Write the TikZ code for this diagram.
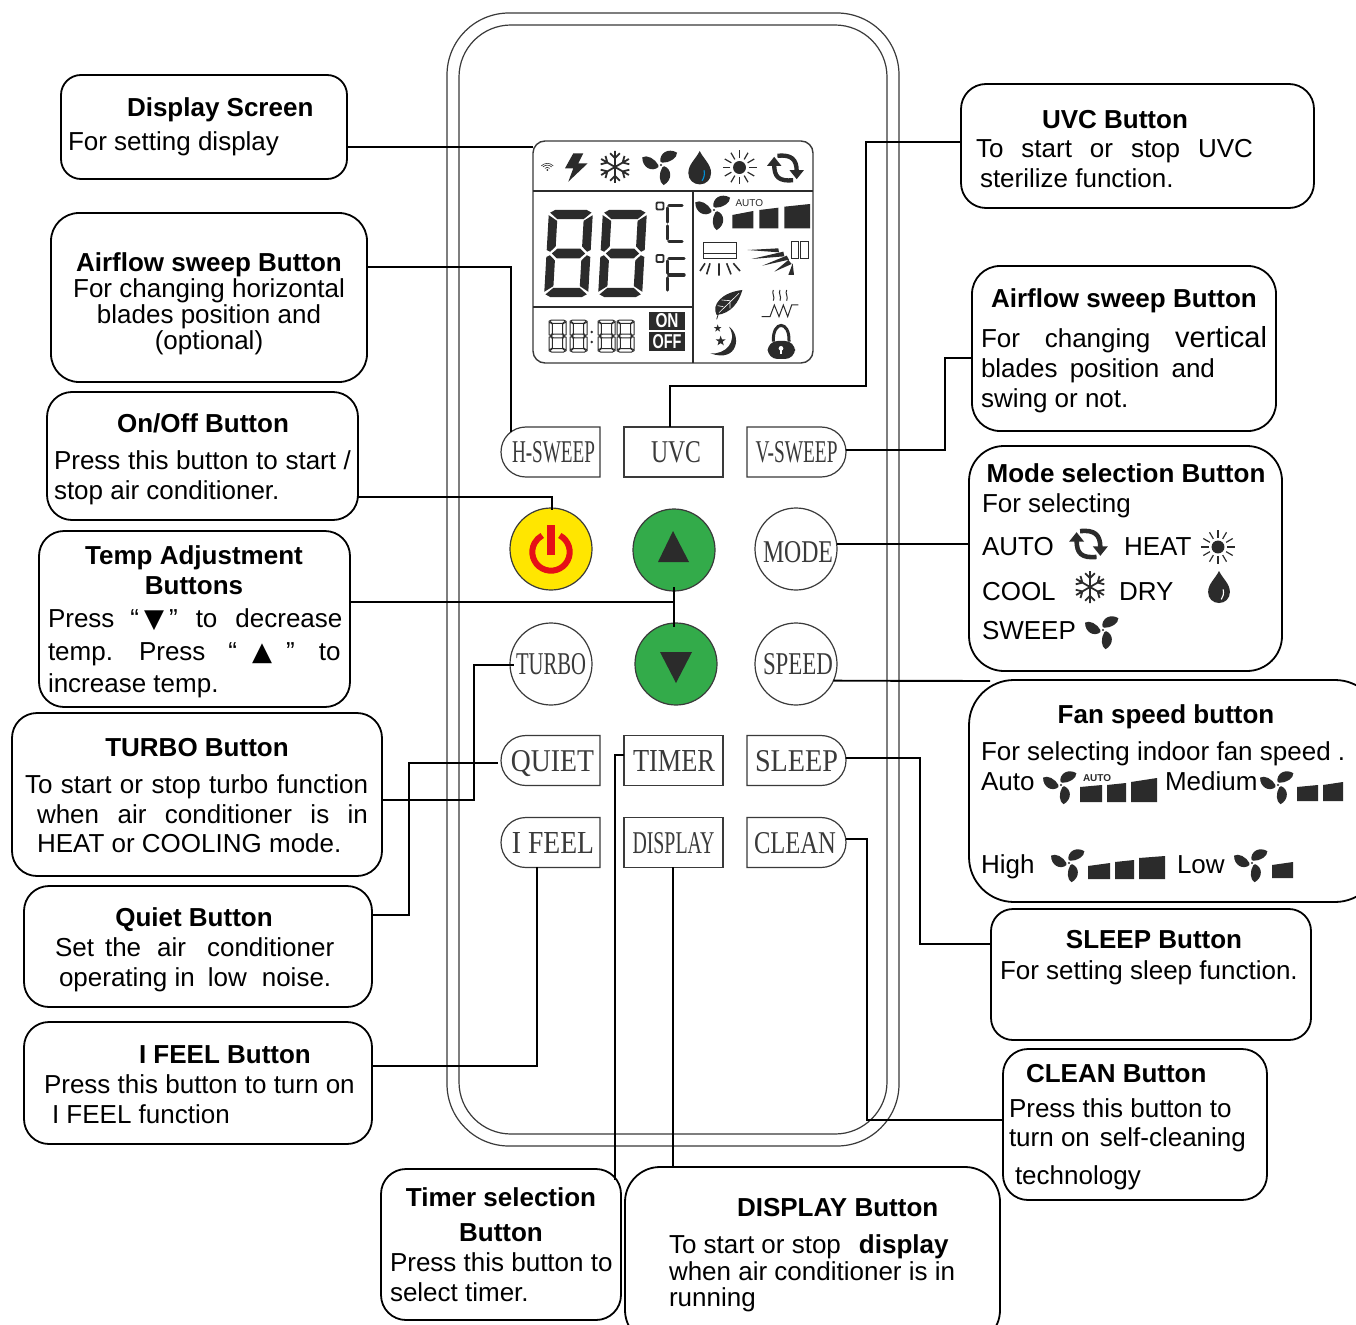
\documentclass[tikz,border=0pt]{standalone}
\usepackage{fontspec}
\usepackage{graphicx}
\setmainfont{Liberation Sans}
\newfontfamily\btnfont{Liberation Serif}
\newfontfamily\dvfont{DejaVu Sans}
\definecolor{lcdink}{HTML}{2B2B2B}
\definecolor{btnink}{HTML}{3A3A3A}
\definecolor{pwryellow}{HTML}{FFE600}
\definecolor{pwrred}{HTML}{E60F17}
\definecolor{btngreen}{HTML}{33AB4A}
\definecolor{dropblue}{HTML}{0090D8}
\newcounter{tn}
\tikzset{
  infobox/.style={draw=black,line width=1.8pt,fill=white,inner sep=0pt,outer sep=0pt},
  conn/.style={draw=black,line width=1.9pt,line join=miter},
  tx/.style={inner sep=0pt,outer sep=0pt,font=\fontsize{26}{30}\selectfont,anchor=base west},
  txc/.style={tx,anchor=base},
  btnline/.style={draw=btnink,line width=1.2pt},
  btnrect/.style={inner sep=0pt,outer sep=0pt,minimum width=99pt,minimum height=50pt,text=btnink},
  btncirc/.style={circle,inner sep=0pt,outer sep=0pt,minimum size=82pt,draw=btnink,line width=1.2pt,text=btnink},
  shell/.style={draw=btnink,line width=1.2pt,inner sep=0pt,outer sep=0pt},
}
\newcommand\boxn[6]{\node[infobox,rounded corners=#6pt,minimum width={(#4-#2)*1pt},minimum height={(#5-#3)*1pt}] (#1) at ({(#2+#4)/2},{(#3+#5)/2}) {};}
\newcommand\tl[3]{\stepcounter{tn}\node[tx] (t\arabic{tn}) at (#1,#2) {#3};}
\newcommand\tc[3]{\stepcounter{tn}\node[txc] (t\arabic{tn}) at (#1,#2) {#3};}
\newcommand\tj[4]{\stepcounter{tn}\node[tx] (t\arabic{tn}) at (#1,#2) {\makebox[#3pt][s]{#4}};}
\newcommand\btxt[3]{\hspace*{#1pt}\resizebox{#2pt}{21pt}{\btnfont\raisebox{0pt}[\height][0pt]{#3}}}
\newcommand\icfan[3]{\begin{scope}[shift={(#1,#2)},scale=#3]
  \foreach \a in {0,120,240}{\fill[lcdink,rotate=\a] (-0.03,-0.2) .. controls (-0.12,-0.68) and (0.42,-1.06) .. (0.96,-0.74) .. controls (0.98,-0.42) and (0.5,-0.12) .. (0.08,-0.14) -- cycle;}
  \fill[lcdink] (0,0) circle[radius=0.07];
  \end{scope}}
\newcommand\icsnow[3]{\begin{scope}[shift={(#1,#2)},scale=#3]
  \foreach \a in {0,60,120,180,240,300}{\draw[lcdink,line width=1.8pt,rotate=\a] (0,0) -- (0,-1) (-0.3,-0.86) -- (0,-0.55) -- (0.3,-0.86);}
  \end{scope}}
\newcommand\icsun[3]{\begin{scope}[shift={(#1,#2)},scale=#3]
  \fill[lcdink] (0,0) circle[radius=0.38];
  \foreach \a in {0,30,...,330}{\draw[lcdink,line width=1.2pt,rotate=\a] (0,-0.55) -- (0,-1);}
  \end{scope}}
\newcommand\icdrop[4]{\begin{scope}[shift={(#1,#2)},scale=#3]
  \fill[lcdink] (0,-1) .. controls (0.25,-0.5) and (0.68,-0.2) .. (0.68,0.32) .. controls (0.68,0.72) and (0.38,1) .. (0,1) .. controls (-0.38,1) and (-0.68,0.72) .. (-0.68,0.32) .. controls (-0.68,-0.2) and (-0.25,-0.5) .. cycle;
  \draw[#4,line width=1.1pt] (0.26,0.15) .. controls (0.32,0.4) and (0.25,0.62) .. (0.14,0.78);
  \end{scope}}
\newcommand\iccycle[3]{\begin{scope}[shift={(#1,#2)},scale=#3]
  \draw[lcdink,line width=#3*0.24pt] (0.45,0.68) .. controls (-0.35,0.75) and (-0.6,0.5) .. (-0.6,-0.2);
  \fill[lcdink] (-1.0,-0.12) -- (-0.6,-0.62) -- (-0.2,-0.12) -- cycle;
  \draw[lcdink,line width=#3*0.24pt] (-0.42,-0.68) .. controls (0.35,-0.75) and (0.65,-0.5) .. (0.65,0.2);
  \fill[lcdink] (0.25,0.12) -- (1.05,0.12) -- (0.65,0.62) -- cycle;
  \end{scope}}
\newcommand\fbar[5]{\fill[lcdink] (#1,#5) -- (#1,#3) -- (#2,#4) -- (#2,#5) -- cycle;}
\newcommand\segd[6]{\begin{scope}[shift={(#1,#2)},cm={#3,0,#5,#4,(0,0)}]
  \path[#6] (.14,0) -- (.86,0) -- (.97,.03) -- (.8,.105) -- (.2,.105) -- (.03,.03) -- cycle;
  \path[#6] (0,.06) -- (.2,.125) -- (.2,.42) -- (.08,.48) -- (0,.46) -- cycle;
  \path[#6] (1,.06) -- (.8,.125) -- (.8,.42) -- (.92,.48) -- (1,.46) -- cycle;
  \path[#6] (.12,.5) -- (.24,.445) -- (.76,.445) -- (.88,.5) -- (.76,.555) -- (.24,.555) -- cycle;
  \path[#6] (0,.54) -- (.08,.52) -- (.2,.58) -- (.2,.875) -- (0,.94) -- cycle;
  \path[#6] (1,.54) -- (.92,.52) -- (.8,.58) -- (.8,.875) -- (1,.94) -- cycle;
  \path[#6] (.03,.97) -- (.2,.895) -- (.8,.895) -- (.97,.97) -- (.86,1) -- (.14,1) -- cycle;
  \end{scope}}
\newcommand\icstar[3]{\fill[lcdink,shift={(#1,#2)},scale=#3] (-90:1) -- (-54:.4) -- (-18:1) -- (18:.4) -- (54:1) -- (90:.4) -- (126:1) -- (162:.4) -- (198:1) -- (234:.4) -- cycle;}
\begin{document}
\begin{tikzpicture}[x=1pt,y=-1pt]
\clip (0,0) rectangle (1356,1324);
\fill[white] (0,0) rectangle (1356,1324);
% remote shell
\node[shell,rounded corners=62pt,minimum width=452pt,minimum height=1133pt] (shellout) at (673,579.5) {};
\node[shell,rounded corners=52pt,minimum width=428pt,minimum height=1109pt] (shellin) at (673,579.5) {};
% LCD
\node[shell,rounded corners=12pt,line width=1.4pt,minimum width=280pt,minimum height=222pt] (lcd) at (673,252) {};
\draw[lcdink,line width=1.2pt] (lcd.west |- 0,191) -- (lcd.east |- 0,191);
\draw[lcdink,line width=1.2pt] (693,191) -- (693,363);
\draw[lcdink,line width=1.2pt] (lcd.west |- 0,307) -- (693,307);
% top row icons
\begin{scope}[shift={(547.3,170)}]
  \fill[lcdink] (0,0) circle[radius=1];
  \foreach \r in {3,5.5,7.5}{\draw[lcdink,line width=.6pt] (-\r*0.8,-\r*0.55) .. controls (-\r*0.3,-\r) and (\r*0.3,-\r) .. (\r*0.8,-\r*0.55);}
\end{scope}
\fill[lcdink] (573.3,153.3) -- (583.3,153.3) -- (578.3,163.3) -- (587.7,163.3) -- (568.3,181.7) -- (573.3,168.3) -- (565,168.3) -- cycle;
\icsnow{615}{167}{16}
\icfan{661}{165}{16.7}
\icdrop{699.7}{167.7}{16.7}{dropblue}
\icsun{739.5}{167.5}{17}
\iccycle{785}{168}{18}
% big digits
\segd{549}{210}{44}{87}{5}{fill=lcdink}
\segd{603}{210}{44}{87}{5}{fill=lcdink}
% degree C / F
\draw[lcdink,line width=1.8pt,rounded corners=1pt] (656.5,202.5) rectangle (663.5,209.5);
\draw[lcdink,line width=3.4pt,line cap=round] (669,205.5) -- (682,205.5) (667.5,208) -- (667.5,222) (667.5,226) -- (667.5,239) (669,241.5) -- (682,241.5);
\draw[lcdink,line width=1.8pt,rounded corners=1pt] (656.5,255) rectangle (663.5,262);
\draw[lcdink,line width=3.4pt,line cap=round] (669,258.5) -- (684,258.5) (667.5,261) -- (667.5,273) (669,275) -- (684,275) (667.5,278) -- (667.5,290);
% time digits
\foreach \xx in {549,570,598,617}{\segd{\xx}{320}{17}{32}{0}{draw=lcdink,line width=1pt}}
\fill[lcdink] (591.7,332) circle[radius=1.4] (591.7,342) circle[radius=1.4];
% ON OFF
\node[fill=lcdink,text=white,inner sep=0pt,minimum width=36pt,minimum height=18pt] (lcdon) at (667,321) {\resizebox{23pt}{14pt}{\bfseries ON}};
\node[fill=lcdink,text=white,inner sep=0pt,minimum width=36pt,minimum height=19pt] (lcdoff) at (667,341.5) {\resizebox{29pt}{14pt}{\bfseries OFF}};
% right panel
\icfan{714}{210}{16.7}
\node[tx,font=\fontsize{10}{12}\selectfont,text=lcdink] (lcdauto) at (735.5,207) {AUTO};
\fbar{732.3}{753.3}{215}{211}{228.3}
\fbar{759.3}{778.3}{210}{207.7}{228.3}
\fbar{784.3}{810}{206.7}{204}{228.3}
\begin{scope}[shift={(525,135)},scale=1/3]
  \draw[lcdink,line width=1pt] (535,322) rectangle (635,372);
  \draw[lcdink,line width=1pt] (535,357) -- (635,357);
  \draw[lcdink,line width=1.6pt] (540,385) -- (525,408) (555,385) -- (545,418) (582,385) -- (582,422) (605,385) -- (618,418) (625,385) -- (645,408);
  \fill[lcdink] (668,345) -- (760,340) -- (762,352) -- cycle;
  \fill[lcdink] (680,372) -- (775,350) -- (778,364) -- cycle;
  \fill[lcdink] (712,392) -- (785,362) -- (792,374) -- cycle;
  \fill[lcdink] (748,410) -- (790,375) -- (800,387) -- cycle;
  \fill[lcdink] (790,420) -- (803,385) -- (807,420) -- cycle;
  \draw[lcdink,line width=1pt] (800,320) rectangle (820,370) (825,320) rectangle (850,370);
  % leaf
  \fill[lcdink] (652,465) .. controls (590,472) and (558,510) .. (575,540) .. controls (620,535) and (642,500) .. (652,465) -- cycle;
  \draw[white,line width=.6pt] (642,475) -- (580,535) (615,497) -- (590,495) (615,497) -- (615,520) (595,515) -- (578,512);
  \draw[lcdink,line width=.8pt] (582,530) -- (575,553);
  % heater
  \draw[lcdink,line width=1pt] (710,545) -- (735,545) -- (748,510) -- (762,545) -- (775,510) -- (788,545) -- (800,510) -- (820,510);
  \foreach \hx in {745,765,785}{\draw[lcdink,line width=1pt] (\hx,465) .. controls (\hx-6,475) and (\hx+6,485) .. (\hx,497);}
  % moon
  \fill[lcdink] (612,575) .. controls (650,600) and (640,685) .. (556,655) .. controls (600,660) and (640,620) .. cycle;
  \icstar{578}{580}{12}
  \icstar{587}{618}{16}
  % lock
  \fill[lcdink,rounded corners=10pt] (728,618) rectangle (810,672);
  \draw[lcdink,line width=3pt] (745,620) .. controls (742,555) and (795,555) .. (792,620);
  \fill[white] (768,640) circle[radius=7];
  \fill[white] (764,640) rectangle (772,658);
\end{scope}
% buttons
\node[btnrect] (hsweep) at (550.5,452) {\btxt{6}{83}{H-SWEEP}};
\node[btnrect,draw=btnink,line width=1.2pt] (uvc) at (673.5,452) {\btxt{5}{50}{UVC}};
\node[btnrect] (vsweep) at (796.5,452) {\btxt{0}{82}{V-SWEEP}};
\node[btnrect] (quiet) at (550.5,760.5) {\btxt{4}{83}{QUIET}};
\node[btnrect,draw=btnink,line width=1.2pt] (timer) at (673.5,760.5) {\btxt{1}{82}{TIMER}};
\node[btnrect] (sleep) at (796.5,760.5) {\btxt{0}{83}{SLEEP}};
\node[btnrect] (ifeel) at (550.5,842.5) {\btxt{5}{82}{I FEEL}};
\node[btnrect,draw=btnink,line width=1.6pt] (display) at (673.5,842.5) {\btxt{0}{82}{DISPLAY}};
\node[btnrect] (clean) at (796.5,842.5) {\btxt{-3}{82}{CLEAN}};
\foreach \b in {hsweep,quiet,ifeel}{\draw[btnline] (\b.north east) -- (\b.south east) -- ([xshift=25pt]\b.south west) .. controls ([xshift=11pt]\b.south west) and ([yshift=-14pt]\b.west) .. (\b.west) .. controls ([yshift=14pt]\b.west) and ([xshift=11pt]\b.north west) .. ([xshift=25pt]\b.north west) -- cycle;}
\foreach \b in {vsweep,sleep,clean}{\draw[btnline] (\b.north west) -- (\b.south west) -- ([xshift=-25pt]\b.south east) .. controls ([xshift=-11pt]\b.south east) and ([yshift=-14pt]\b.east) .. (\b.east) .. controls ([yshift=14pt]\b.east) and ([xshift=-11pt]\b.north east) .. ([xshift=-25pt]\b.north east) -- cycle;}
\node[btncirc,fill=pwryellow] (power) at (551,549) {};
\node[btncirc,fill=btngreen] (upb) at (674,550) {};
\node[btncirc] (modeb) at (796,549) {\raisebox{-3pt}[21pt][0pt]{\btxt{4}{70}{MODE}}};
\node[btncirc] (turbob) at (551,664) {\btxt{0}{70}{TURBO}};
\node[btncirc,fill=btngreen] (downb) at (676,664) {};
\node[btncirc] (speedb) at (796,664) {\btxt{4}{70}{SPEED}};
\draw[pwrred,line width=6pt] (551,552) ++(-62:18.7) arc[start angle=-62,end angle=242,radius=18.7];
\fill[pwrred] (547.3,525) rectangle (554.7,555);
\fill[lcdink] (673,531) -- (658,562) -- (689,562) -- cycle;
\fill[lcdink] (660,652) -- (692,652) -- (676,683) -- cycle;
% info boxes
\boxn{bdisplayscr}{61}{75}{347}{179}{20}
\boxn{bairl}{51}{213}{367}{382}{28}
\boxn{bonoff}{47}{392}{358}{520}{25}
\boxn{btemp}{39}{531}{350}{707}{25}
\boxn{bturbo}{12}{713}{382}{876}{25}
\boxn{bquiet}{24}{886}{372}{1007}{25}
\boxn{bifeel}{24}{1022}{372}{1144}{25}
\boxn{btimer}{381}{1169}{621}{1320}{25}
\boxn{bdisplay}{625}{1167}{1000}{1345}{35}
\boxn{buvc}{961}{84}{1314}{208}{25}
\boxn{bairr}{972}{266}{1276}{431}{28}
\boxn{bmode}{969}{446}{1282}{671}{35}
\boxn{bfan}{969}{680}{1380}{902}{45}
\boxn{bsleep}{991}{909}{1311}{1040}{22}
\boxn{bclean}{1003}{1049}{1267}{1200}{25}
% connectors
\draw[conn] (bdisplayscr.east |- 0,147) -- (lcd.west |- 0,147);
\draw[conn] (bairl.east |- 0,267) -- (511,267) -- (511,432);
\draw[conn] (buvc.west |- 0,142) -- (866,142) -- (866,386) -- (670,386) -- (670,427);
\draw[conn] (vsweep.east |- 0,450) -- (945,450) -- (945,358) -- (bairr.west |- 0,358);
\draw[conn] (bonoff.east |- 0,497) -- (552,497) -- (552,510);
\draw[conn] (btemp.east |- 0,602) -- (674,602);
\draw[conn] (674,587) -- (674,627);
\draw[conn] (modeb.7) -- (bmode.west |- modeb.7);
\draw[conn] (speedb.-24.5) -- (990,681);
\draw[conn] (bturbo.east |- 0,800) -- (474,800) -- (474,665) -- (514,665);
\draw[conn] (bquiet.east |- 0,915) -- (409,915) -- (409,763) -- (498,763);
\draw[conn] (bifeel.east |- 0,1066) -- (537,1066) -- (537,867);
\draw[conn] (timer.west |- 0,755) -- (615,755) -- (615,1180);
\draw[conn] (673,867) -- (673,1167);
\draw[conn] (sleep.east |- 0,758) -- (920,758) -- (920,944) -- (bsleep.west |- 0,944);
\draw[conn] (clean.east |- 0,839) -- (867,839) -- (867,1120) -- (bclean.west |- 0,1120);
% texts
\tl{127}{117}{\bfseries Display Screen}
\tl{68}{151}{For setting display}
\tc{209}{271}{\bfseries Airflow sweep Button}
\tc{209}{297}{For changing horizontal}
\tc{209}{323}{blades position and}
\tc{209}{349}{(optional)}
\tc{203}{432}{\bfseries On/Off Button}
\tj{54}{469}{297}{Press this button to start /}
\tl{54}{499}{stop air conditioner.}
\tc{194}{564}{\bfseries Temp Adjustment}
\tc{194}{594}{\bfseries Buttons}
\tl{48}{627}{Press\hspace{16pt}“\hspace{5pt}{\dvfont ▼}\hspace{5pt}”\hspace{18pt}to\hspace{18pt}decrease}
\tl{48}{660}{temp.\hspace{26pt}Press\hspace{23pt}“\hspace{15pt}{\dvfont ▲}\hspace{14pt}”\hspace{24pt}to}
\tl{48}{692}{increase temp.}
\tc{197}{756}{\bfseries TURBO Button}
\tj{25}{793}{343}{To start or stop turbo function}
\tj{37}{823}{331}{when air conditioner is in}
\tl{37}{852}{HEAT or COOLING mode.}
\tc{194}{926}{\bfseries Quiet Button}
\tl{55}{956}{Set\hspace{11pt}the\hspace{16pt}air\hspace{21pt}conditioner}
\tl{59}{986}{operating in\hspace{13pt}low\hspace{15pt}noise.}
\tl{139}{1063}{\bfseries I FEEL Button}
\tl{44}{1093}{Press this button to turn on}
\tl{52}{1123}{I FEEL function}
\tc{501}{1206}{\bfseries Timer selection}
\tc{501}{1241}{\bfseries Button}
\tl{390}{1271}{Press this button to}
\tl{390}{1301}{select timer.}
\tl{737}{1216}{\bfseries DISPLAY Button}
\tl{669}{1253}{To start or stop\hspace{18pt}{\bfseries display}}
\tl{669}{1280}{when air conditioner is in}
\tl{669}{1306}{running}
\tc{1115}{129}{\bfseries UVC Button}
\tj{976}{158}{277}{To start or stop UVC}
\tl{980}{188}{sterilize function.}
\tl{991}{307}{\bfseries Airflow sweep Button}
\tj{981}{347}{286}{For changing {\fontsize{29}{30}\selectfont vertical}}
\tj{981}{377}{234}{blades position and}
\tl{981}{407}{swing or not.}
\tc{1126}{482}{\bfseries Mode selection Button}
\tl{982}{512}{For selecting}
\tl{982}{555}{AUTO}
\tl{1124}{555}{HEAT}
\tl{982}{600}{COOL}
\tl{1119}{600}{DRY}
\tl{982}{639}{SWEEP}
\tc{1166}{723}{\bfseries Fan speed button}
\tl{981}{760}{For selecting indoor fan speed .}
\tl{981}{790}{Auto}
\tl{1165}{790}{Medium}
\tl{981}{873}{High}
\tl{1177}{873}{Low}
\tc{1154}{948}{\bfseries SLEEP Button}
\tl{1000}{979}{For setting sleep function.}
\tl{1026}{1082}{\bfseries CLEAN Button}
\tl{1009}{1117}{Press this button to}
\tl{1009}{1146}{turn on\hspace{10pt}self-cleaning}
\tl{1015}{1184}{technology}
% mode icons
\iccycle{1088}{544}{19}
\icsun{1218}{547}{17}
\icsnow{1090}{587}{16}
\icdrop{1219}{587}{16}{white}
\icfan{1103}{630}{16}
% fan box icons
\icfan{1061}{785}{16}
\node[tx,font=\fontsize{10}{12}\bfseries\selectfont,text=lcdink] (fanauto) at (1083,781) {AUTO};
\fbar{1080}{1102}{787}{785}{802}
\fbar{1107}{1126}{785}{783}{802}
\fbar{1131}{1157}{782}{778}{802}
\icfan{1278}{785}{16}
\fbar{1297}{1318}{787}{785}{801}
\fbar{1323}{1343}{785}{782}{801}
\icfan{1069}{863}{16}
\fbar{1088}{1110}{866}{863}{879}
\fbar{1115}{1134}{862}{860}{879}
\fbar{1139}{1165}{858}{856}{879}
\icfan{1252}{863}{16}
\fbar{1272}{1293}{865}{862}{878}
\end{tikzpicture}
\end{document}
